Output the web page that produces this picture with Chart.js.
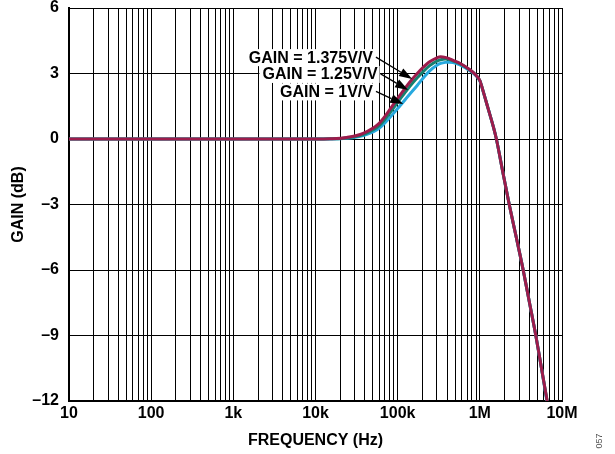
<!DOCTYPE html>
<html>
<head>
<meta charset="utf-8">
<script src="https://cdn.jsdelivr.net/npm/chart.js@4/dist/chart.umd.min.js"></script>
<style>
  body { margin: 0; background: #fff; }
  #wrap { width: 615px; height: 454px; }
</style>
</head>
<body>
<div id="wrap"><canvas id="gainChart" width="615" height="454"></canvas></div>
<script>
// frequency points (Hz), shared by all three curves
const freqs = [10, 10000, 15000, 24000, 38000, 60000, 100000, 140000, 173000, 200000, 245000,
  300000, 333000, 380000, 424000, 473000, 572000, 756000, 869000, 1000000, 1090000, 1260000,
  1450000, 1590000, 1900000, 2280000, 2800000, 3370000, 4000000, 4800000, 5600000, 6600000];

const gain1 = [0, 0, 0, 0.03, 0.16, 0.5, 1.4, 2.05, 2.45, 2.75, 3.12, 3.38, 3.46, 3.51, 3.52,
  3.5, 3.4, 3.13, 2.95, 2.66, 2.22, 1.4, 0.6, 0, -1.5, -3, -4.57, -6, -7.45, -9, -10.45, -12.1];
const gain125 = [0, 0, 0.01, 0.05, 0.2, 0.62, 1.68, 2.4, 2.8, 3.05, 3.36, 3.57, 3.63, 3.66, 3.64,
  3.57, 3.45, 3.16, 2.98, 2.68, 2.23, 1.4, 0.6, 0, -1.5, -3, -4.57, -6, -7.45, -9, -10.45, -12];
const gain1375 = [0, 0, 0.01, 0.07, 0.26, 0.73, 1.86, 2.6, 3.0, 3.25, 3.54, 3.72, 3.77, 3.74, 3.68,
  3.6, 3.47, 3.17, 2.98, 2.68, 2.23, 1.4, 0.6, 0, -1.5, -3, -4.57, -6, -7.45, -9, -10.45, -12];

const decadeLabels = { 10: '10', 100: '100', 1000: '1k', 10000: '10k', 100000: '100k', 1000000: '1M', 10000000: '10M' };
const yTicks = [-12, -9, -6, -3, 0, 3, 6];

// callouts: text end point and arrow tip, both in data units
const callouts = [
  { text: 'GAIN = 1.375V/V', tx: 50000, ty: 3.75, ax: 150000, ay: 2.75 },
  { text: 'GAIN = 1.25V/V', tx: 57000, ty: 2.98, ax: 134000, ay: 2.25 },
  { text: 'GAIN = 1V/V', tx: 50000, ty: 2.18, ax: 117000, ay: 1.6 }
];

const FONT = 'Arial, "Liberation Sans", sans-serif';

function toPoints(ys) {
  return freqs.map((f, i) => ({ x: f, y: ys[i] }));
}

function gridFreqs() {
  const out = [];
  for (let d = 10; d < 10000000; d *= 10) {
    for (let m = 1; m < 10; m++) out.push(d * m);
  }
  out.push(10000000);
  return out;
}

const calloutPlugin = {
  id: 'callouts',
  afterDatasetsDraw(chart) {
    const { ctx, scales } = chart;
    const xs = scales.x, ys = scales.y;
    ctx.save();
    ctx.font = 'bold 16px ' + FONT;
    ctx.textBaseline = 'middle';
    ctx.textAlign = 'right';
    callouts.forEach(c => {
      const x = xs.getPixelForValue(c.tx);
      const y = ys.getPixelForValue(c.ty);
      const w = ctx.measureText(c.text).width;
      ctx.fillStyle = '#fff';
      ctx.fillRect(x - w - 3, y - 8, w + 5, 17);
      ctx.fillStyle = '#000';
      ctx.fillText(c.text, x, y + 1);
    });
    callouts.forEach(c => {
      const x0 = xs.getPixelForValue(c.tx) + 3;
      const y0 = ys.getPixelForValue(c.ty);
      const x1 = xs.getPixelForValue(c.ax);
      const y1 = ys.getPixelForValue(c.ay);
      const ang = Math.atan2(y1 - y0, x1 - x0);
      const len = 13, half = 4.5;
      const bx = x1 - len * Math.cos(ang), by = y1 - len * Math.sin(ang);
      ctx.strokeStyle = '#000';
      ctx.lineWidth = 1.3;
      ctx.beginPath();
      ctx.moveTo(x0, y0);
      ctx.lineTo(bx, by);
      ctx.stroke();
      ctx.fillStyle = '#000';
      ctx.beginPath();
      ctx.moveTo(x1, y1);
      ctx.lineTo(bx + half * Math.sin(ang), by - half * Math.cos(ang));
      ctx.lineTo(bx - half * Math.sin(ang), by + half * Math.cos(ang));
      ctx.closePath();
      ctx.fill();
    });
    // figure number at bottom right
    ctx.translate(600, 441);
    ctx.rotate(-Math.PI / 2);
    ctx.font = '9px ' + FONT;
    ctx.textAlign = 'center';
    ctx.fillStyle = '#555';
    ctx.fillText('057', 0, 0);
    ctx.restore();
  }
};

const ctx = document.getElementById('gainChart').getContext('2d');

new Chart(ctx, {
  type: 'line',
  data: {
    datasets: [
      { label: 'GAIN = 1.375V/V', data: toPoints(gain1375), borderColor: '#9c1c4c', order: 1 },
      { label: 'GAIN = 1.25V/V', data: toPoints(gain125), borderColor: '#16806f', order: 2 },
      { label: 'GAIN = 1V/V', data: toPoints(gain1), borderColor: '#27a9df', order: 3 }
    ]
  },
  options: {
    responsive: false,
    animation: false,
    layout: { padding: { top: 8, right: 53, left: 0, bottom: 0 } },
    elements: {
      point: { radius: 0 },
      line: { borderWidth: 3, cubicInterpolationMode: 'monotone', fill: false }
    },
    plugins: { legend: { display: false }, tooltip: { enabled: false } },
    scales: {
      x: {
        type: 'logarithmic',
        min: 10,
        max: 10000000,
        afterBuildTicks: s => { s.ticks = gridFreqs().map(v => ({ value: v })); },
        afterFit: s => { s.height = 53; s.paddingLeft = 0; s.paddingRight = 0; },
        ticks: {
          autoSkip: false,
          maxRotation: 0,
          padding: 3,
          color: '#000',
          font: { family: FONT, size: 16, weight: 'bold' },
          callback: v => decadeLabels[v] || ''
        },
        grid: { color: '#000', lineWidth: 1, drawTicks: false },
        border: { color: '#000', width: 2 },
        title: {
          display: true,
          text: 'FREQUENCY (Hz)',
          color: '#000',
          font: { family: FONT, size: 16, weight: 'bold' },
          padding: { top: 0, bottom: 4 }
        }
      },
      y: {
        min: -12,
        max: 6,
        afterBuildTicks: s => { s.ticks = yTicks.map(v => ({ value: v })); },
        afterFit: s => { s.width = 69; s.paddingTop = 0; s.paddingBottom = 0; },
        ticks: {
          padding: 10,
          color: '#000',
          font: { family: FONT, size: 16, weight: 'bold' },
          callback: v => (v < 0 ? '\u2013' + Math.abs(v) : String(v))
        },
        grid: { color: '#000', lineWidth: 1, drawTicks: false },
        border: { color: '#000', width: 2 },
        title: {
          display: true,
          text: 'GAIN (dB)',
          color: '#000',
          font: { family: FONT, size: 16, weight: 'bold' },
          padding: { top: 9, bottom: 0 }
        }
      }
    }
  },
  plugins: [calloutPlugin]
});
</script>
</body>
</html>
